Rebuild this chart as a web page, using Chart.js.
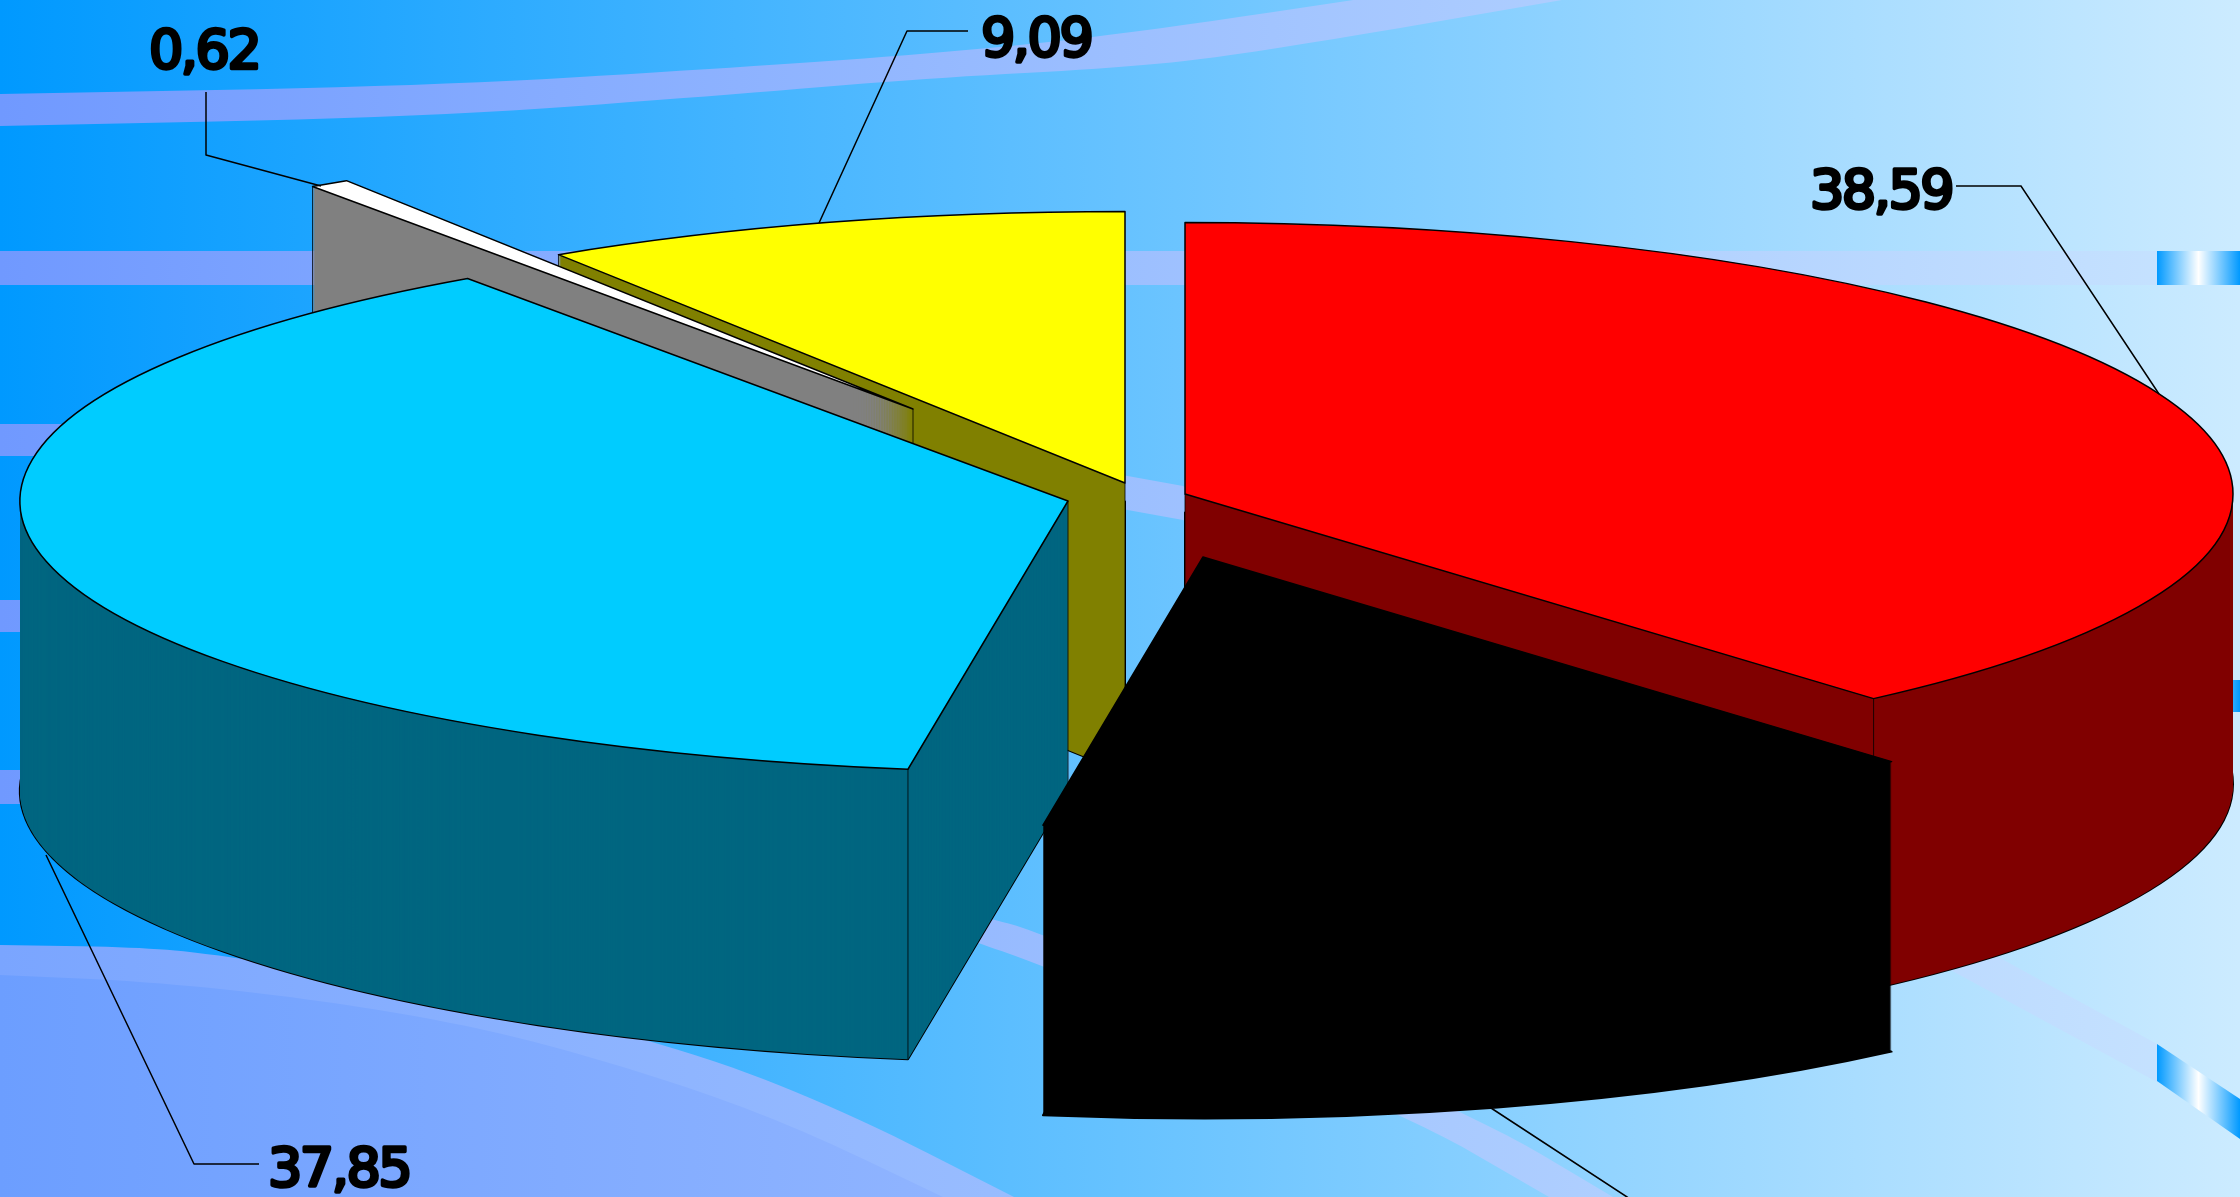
<!DOCTYPE html>
<html>
<head>
<meta charset="utf-8">
<style>
  html, body { margin: 0; padding: 0; background: #0099ff; overflow: hidden; }
  canvas { display: block; }
</style>
<script src="https://cdn.jsdelivr.net/npm/chart.js@4"></script>
</head>
<body>
<canvas id="pieChart" width="2240" height="1197"></canvas>
<script>
// values clockwise from 12 o'clock, the black slice's label is cut off by the picture edge
const sliceValues = [38.59, 13.85, 37.85, 0.62, 9.09];
const sliceLabels = ['38,59', '13,85', '37,85', '0,62', '9,09'];

const topColors = ['#ff0000', '#000000', '#00ccff', '#ffffff', '#ffff00'];
const sideColors = ['#800000', '#000000', '#006680', '#808080', '#808000'];

// how far each slice is pulled out of the pie, on screen
const explodeX = [55, 73, -62, -217, -5];
const explodeY = [-4, 59, 3, -89, -15];
const drawOrder = [4, 3, 2, 0, 1];

const squash = 0.259;
const depth = 290;

// label placement: [x, baseline, leader polyline]
const labelSpots = [
    [1810, 208, [[1956, 186], [2021, 186], [2159, 394]]],
    [1680, 1250, [[1491, 1108], [1627, 1197], [1665, 1222]]],
    [268, 1186, [[259, 1164], [194, 1164], [46, 855]]],
    [149, 68, [[206, 92], [206, 155], [321, 186]]],
    [981, 56, [[968, 31], [907, 31], [819, 223]]]
];

function hGradient(ctx, left, mid, right) {
    let g = ctx.createLinearGradient(0, 0, 2240, 0);
    g.addColorStop(0, left);
    g.addColorStop(0.5, mid);
    g.addColorStop(1, right);
    return g;
}

function smoothShape(ctx, pts, fill) {
    ctx.beginPath();
    ctx.moveTo(pts[0][0], pts[0][1]);
    pts.slice(1).forEach(p => ctx.lineTo(p[0], p[1]));
    ctx.closePath();
    ctx.fillStyle = fill;
    ctx.fill();
}

function curve(pts) {
    // midpoint rounding so the swooshes don't show corners
    let out = [pts[0]];
    for (let i = 1; i < pts.length - 1; i++) {
        let a = pts[i - 1], b = pts[i], c = pts[i + 1];
        for (let t = 0.1; t < 1; t += 0.1) {
            let p0 = [(a[0] + b[0]) / 2, (a[1] + b[1]) / 2];
            let p2 = [(b[0] + c[0]) / 2, (b[1] + c[1]) / 2];
            out.push([
                (1 - t) * (1 - t) * p0[0] + 2 * t * (1 - t) * b[0] + t * t * p2[0],
                (1 - t) * (1 - t) * p0[1] + 2 * t * (1 - t) * b[1] + t * t * p2[1]
            ]);
        }
    }
    out.push(pts[pts.length - 1]);
    return out;
}

const backdrop = {
    id: 'backdrop',
    beforeDraw(chart) {
        const ctx = chart.ctx;
        ctx.save();
        ctx.fillStyle = hGradient(ctx, '#0099ff', '#66c2ff', '#ccebff');
        ctx.fillRect(0, 0, 2240, 1197);

        const band = hGradient(ctx, '#7099ff', '#9cbfff', '#c8e4ff');
        // top swoosh
        smoothShape(ctx, curve([[0, 94], [429, 86], [714, 69], [929, 54], [1120, 35], [1420, -10]])
            .concat(curve([[1620, -10], [1249, 54], [1120, 68], [929, 78], [714, 96], [429, 117], [0, 126]])), band);
        // straight strips
        ctx.fillStyle = band;
        ctx.fillRect(0, 251, 2157, 34);
        ctx.fillRect(0, 424, 120, 32);
        ctx.fillRect(0, 600, 120, 32);
        ctx.fillRect(0, 770, 120, 34);
        // diagonal swooshes
        smoothShape(ctx, [[1100, 471], [1183, 486], [2000, 958], [2157, 1044], [2157, 1082], [1956, 973], [1183, 520], [1100, 505]], band);
        smoothShape(ctx, curve([[900, 890], [978, 916], [1039, 931], [1470, 1112], [1613, 1197]])
            .concat(curve([[1549, 1197], [1406, 1114], [1039, 964], [978, 943], [900, 915]])), band);
        // big corner shape
        smoothShape(ctx, curve([[0, 945], [136, 947], [214, 954], [450, 990], [686, 1049], [843, 1110], [1014, 1197]])
            .concat([[0, 1197]]), hGradient(ctx, '#7aa5ff', '#9cbfff', '#c8e4ff'));
        smoothShape(ctx, curve([[0, 975], [143, 981], [307, 998], [486, 1028], [643, 1072], [786, 1122], [943, 1197]])
            .concat([[0, 1197]]), hGradient(ctx, '#6c9eff', '#96b8ff', '#c8e4ff'));

        // the little glossy tabs on the right edge
        let tab = ctx.createLinearGradient(2157, 0, 2240, 0);
        tab.addColorStop(0, '#0099ff');
        tab.addColorStop(0.5, '#ffffff');
        tab.addColorStop(1, '#0099ff');
        ctx.fillStyle = tab;
        ctx.fillRect(2157, 251, 83, 34);
        ctx.fillRect(2157, 680, 83, 32);
        smoothShape(ctx, [[2157, 1044], [2240, 1099], [2240, 1139], [2157, 1081]], tab);
        ctx.restore();
    },
    afterDraw(chart) {
        // leader lines and value labels on top of the pie
        const ctx = chart.ctx;
        ctx.save();
        labelSpots.forEach((spot, i) => {
            ctx.beginPath();
            spot[2].forEach((p, n) => n ? ctx.lineTo(p[0], p[1]) : ctx.moveTo(p[0], p[1]));
            ctx.strokeStyle = '#000000';
            ctx.lineWidth = 1.5;
            ctx.stroke();

            ctx.font = '54px "DejaVu Sans"';
            ctx.letterSpacing = '-2.5px';
            ctx.textAlign = 'left';
            ctx.textBaseline = 'alphabetic';
            ctx.fillStyle = '#000000';
            ctx.lineWidth = 3.5;
            ctx.lineJoin = 'round';
            ctx.fillText(sliceLabels[i], spot[0], spot[1]);
            ctx.strokeText(sliceLabels[i], spot[0], spot[1]);
        });
        ctx.restore();
    }
};

function wedgePath(ctx, arc, cx, cy) {
    // flattened wedge, geometry comes from the chart's arc element
    ctx.save();
    ctx.translate(cx, cy);
    ctx.scale(1, squash);
    ctx.beginPath();
    ctx.moveTo(0, 0);
    ctx.arc(0, 0, arc.outerRadius, arc.startAngle, arc.endAngle);
    ctx.closePath();
    ctx.restore();
}

function wallEdge(ctx, arc, cx, cy, angle) {
    let x = cx + Math.cos(angle) * arc.outerRadius;
    let y = cy + Math.sin(angle) * arc.outerRadius * squash;
    ctx.beginPath();
    ctx.moveTo(x, y);
    ctx.lineTo(x, y + depth);
    ctx.stroke();
}

const pie3d = {
    id: 'pie3d',
    beforeDatasetsDraw(chart) {
        const ctx = chart.ctx;
        const arcs = chart.getDatasetMeta(0).data;
        ctx.save();
        ctx.lineJoin = 'round';
        drawOrder.forEach(i => {
            let arc = arcs[i];
            let cx = arc.x + explodeX[i];
            let cy = arc.y + explodeY[i];

            // bottom outline first, the sweep covers its inner half
            wedgePath(ctx, arc, cx, cy + depth);
            ctx.strokeStyle = '#000000';
            ctx.lineWidth = 2;
            ctx.stroke();

            ctx.fillStyle = sideColors[i];
            for (let d = depth; d > 0; d--) {
                wedgePath(ctx, arc, cx, cy + d);
                ctx.fill();
            }

            // vertical wall edges, only the walls turned towards the viewer
            ctx.lineWidth = 1;
            ctx.strokeStyle = 'rgba(0,0,0,0.8)';
            ctx.beginPath();
            ctx.moveTo(cx, cy);
            ctx.lineTo(cx, cy + depth);
            ctx.stroke();
            if (Math.cos(arc.startAngle) < -0.001) wallEdge(ctx, arc, cx, cy, arc.startAngle);
            if (Math.cos(arc.endAngle) > 0.001) wallEdge(ctx, arc, cx, cy, arc.endAngle);

            wedgePath(ctx, arc, cx, cy);
            ctx.fillStyle = topColors[i];
            ctx.fill();
            ctx.lineWidth = 1.5;
            ctx.strokeStyle = '#000000';
            ctx.stroke();
        });
        ctx.restore();
        return false;
    }
};

new Chart(document.getElementById('pieChart').getContext('2d'), {
    type: 'pie',
    data: {
        labels: sliceLabels,
        datasets: [{
            data: sliceValues,
            backgroundColor: topColors,
            borderColor: '#000000',
            borderWidth: 1
        }]
    },
    options: {
        responsive: false,
        animation: false,
        radius: 1048,
        layout: { padding: { left: 20, bottom: 201 } },
        plugins: {
            legend: { display: false },
            tooltip: { enabled: false }
        }
    },
    plugins: [backdrop, pie3d]
});
</script>
</body>
</html>
